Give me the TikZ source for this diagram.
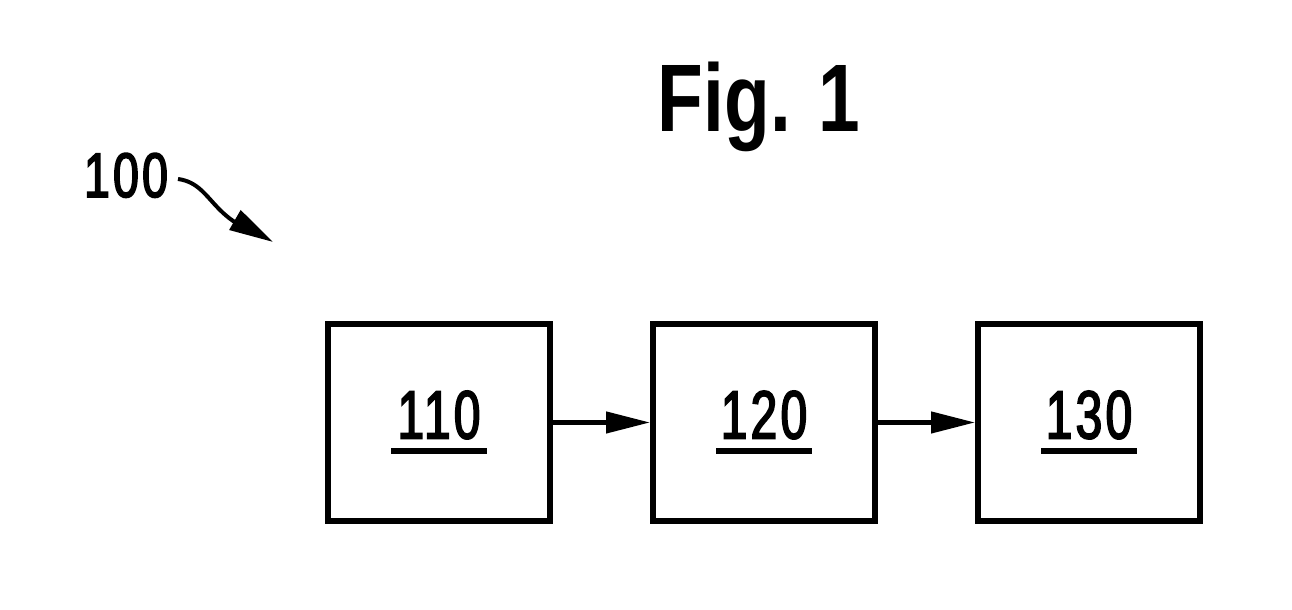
\documentclass[tikz,border=0pt]{standalone}
\usepackage{fontspec}
\usepackage{tikz}
\usetikzlibrary{arrows.meta}
\newfontfamily\boxfont{Liberation Sans}[FakeStretch=0.70, FakeBold=2.5, LetterSpace=5]
\newfontfamily\figfont{Liberation Sans}[FakeStretch=0.78]
\newfontfamily\tagfont{Liberation Sans}[FakeStretch=0.74, FakeBold=2.5, LetterSpace=5]
\newcommand{\refnum}[1]{\vbox{\hbox to 0.96cm{\hss#1\hss}\kern0.09cm\hrule height 0.06cm}}
\tikzset{
  block/.style={draw, line width=0.06cm, minimum width=2.22cm, minimum height=1.97cm,
    inner sep=0pt, font=\boxfont\fontsize{19.4}{20}\selectfont},
  flow/.style={-{Triangle[length=0.44cm, width=0.21cm]}, line width=0.045cm}
}
\begin{document}
\begin{tikzpicture}
    \useasboundingbox (0,0) rectangle (12.92,6.10);
    \node [anchor=base, font=\figfont\bfseries\fontsize{27.3}{28}\selectfont] (F) at (7.59,4.78) {Fig. 1};
    \node [anchor=base, inner sep=0pt, font=\tagfont\fontsize{17.9}{18}\selectfont] (L) at (1.26,4.13) {100};
    \coordinate (S) at (1.78,4.31);
    \coordinate (M) at (2.2,4.0);
    \coordinate (T) at (2.73,3.68);
    \node [block] (A1) at (4.39,1.875) {\refnum{110}};
    \node [block] (B1) at (7.64,1.875) {\refnum{120}};
    \node [block] (C1) at (10.89,1.875) {\refnum{130}};
    \draw [flow] (A1) to (B1);
    \draw [flow] (B1) to (C1);
    \draw [-{Triangle[length=0.44cm, width=0.22cm]}, line width=0.04cm]
      (S) to [out=-8, in=135] (M) to [out=-45, in=150] (T);
  \end{tikzpicture}
\end{document}
